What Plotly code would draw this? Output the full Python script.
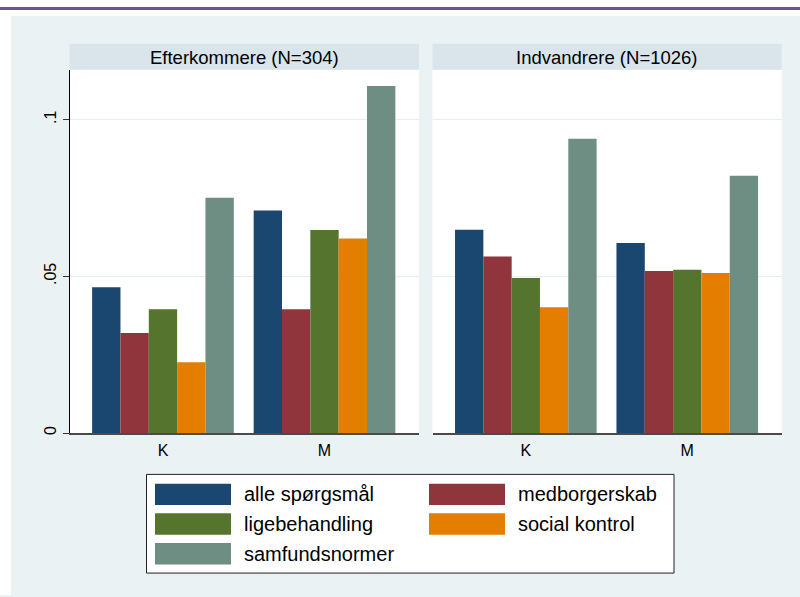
import plotly.graph_objects as go

# ---------------- data ----------------
categories = ["K", "M"]
series_names = ["alle spørgsmål", "medborgerskab", "ligebehandling",
                "social kontrol", "samfundsnormer"]
panel_titles = ["Efterkommere (N=304)", "Indvandrere (N=1026)"]

# Efterkommere (N=304): values for K, M
eft_alle = [0.0465, 0.0710]
eft_medborgerskab = [0.0319, 0.0395]
eft_ligebehandling = [0.0395, 0.0648]
eft_social = [0.0226, 0.0621]
eft_samfund = [0.0751, 0.1107]

# Indvandrere (N=1026): values for K, M
ind_alle = [0.0649, 0.0606]
ind_medborgerskab = [0.0563, 0.0517]
ind_ligebehandling = [0.0495, 0.0521]
ind_social = [0.0401, 0.0511]
ind_samfund = [0.0939, 0.0821]

ytick_vals = [0, 0.05, 0.1]
ytick_text = ["0", ".05", ".1"]

# ---------------- style ----------------
colors = ["#1a476f", "#90353b", "#55752f", "#e37e00", "#6e8e84"]
BG = "#eaf2f3"
STRIP = "#d9e5eb"
FONT = "Liberation Sans, Arial, sans-serif"
W, H = 800, 597


def px(x):
    return x / W


def py(y):
    return 1 - y / H


panels = [
    [eft_alle, eft_medborgerskab, eft_ligebehandling, eft_social, eft_samfund],
    [ind_alle, ind_medborgerskab, ind_ligebehandling, ind_social, ind_samfund],
]

fig = go.Figure()
for p, data in enumerate(panels):
    for i, name in enumerate(series_names):
        fig.add_trace(go.Bar(
            x=categories, y=data[i], name=name,
            marker=dict(color=colors[i], line=dict(width=0)),
            xaxis="x" if p == 0 else "x2",
            yaxis="y" if p == 0 else "y2",
            showlegend=False,
        ))

x_range = [-0.578, 1.585]
y_range = [0, 0.1159]
ydom = [py(434.5), py(70)]

common_x = dict(type="category", range=x_range, showline=True,
                linecolor="#4a4a4a", linewidth=1.5, ticks="", showgrid=False,
                zeroline=False, ticklabelstandoff=2,
                tickfont=dict(size=16, color="black", family=FONT),
                fixedrange=True)
common_y = dict(range=y_range, tickvals=ytick_vals, ticktext=ytick_text,
                showgrid=True, gridcolor="#e6eef0", gridwidth=1, zeroline=False,
                fixedrange=True)

fig.update_layout(
    width=W, height=H,
    margin=dict(l=0, r=0, t=0, b=0),
    paper_bgcolor=BG, plot_bgcolor="white",
    font=dict(family=FONT, color="black"),
    barmode="group", bargap=0.123, bargroupgap=0,
    showlegend=False,
    xaxis=dict(domain=[px(69.6), px(419)], anchor="y", **common_x),
    xaxis2=dict(domain=[px(432.5), px(781.7)], anchor="y2", **common_x),
    yaxis=dict(domain=ydom, anchor="x", showline=True, linecolor="black",
               linewidth=1, ticks="outside", ticklen=6, tickcolor="#333333",
               tickangle=-90, tickfont=dict(size=16, color="black", family=FONT),
               **common_y),
    yaxis2=dict(domain=ydom, anchor="x2", showline=False, showticklabels=False,
                ticks="", **common_y),
)

shapes = []
annotations = []
# white margins and purple rule at top (page framing)
shapes.append(dict(type="rect", xref="paper", yref="paper", x0=0, x1=1,
                   y0=py(16), y1=1, fillcolor="white", line=dict(width=0),
                   layer="below"))
shapes.append(dict(type="rect", xref="paper", yref="paper", x0=0, x1=px(11),
                   y0=0, y1=1, fillcolor="white", line=dict(width=0),
                   layer="below"))
shapes.append(dict(type="rect", xref="paper", yref="paper", x0=0, x1=1,
                   y0=py(10), y1=py(7), fillcolor="#65578a", line=dict(width=0),
                   layer="below"))

# strip headers
strips = [(69.6, 419), (432.5, 781.7)]
for (x0, x1), title in zip(strips, panel_titles):
    shapes.append(dict(type="rect", xref="paper", yref="paper",
                       x0=px(x0), x1=px(x1), y0=py(70), y1=py(44),
                       fillcolor=STRIP, line=dict(width=0), layer="below"))
    annotations.append(dict(xref="paper", yref="paper", x=px((x0 + x1) / 2),
                            y=py(57.5), text=title, showarrow=False,
                            xanchor="center", yanchor="middle",
                            font=dict(size=18.5, color="black", family=FONT)))

# legend box
shapes.append(dict(type="rect", xref="paper", yref="paper",
                   x0=px(146.5), x1=px(674), y0=py(575), y1=py(476),
                   fillcolor="white", line=dict(color="#222222", width=1),
                   layer="above"))
for i, name in enumerate(series_names):
    col, row = i % 2, i // 2
    sx0 = 155 + col * 274
    cy = 496 + row * 29.8
    shapes.append(dict(type="rect", xref="paper", yref="paper",
                       x0=px(sx0), x1=px(sx0 + 76),
                       y0=py(cy + 10.7), y1=py(cy - 10.7),
                       fillcolor=colors[i], line=dict(width=0), layer="above"))
    annotations.append(dict(xref="paper", yref="paper", x=px(sx0 + 87),
                            y=py(cy), text=name, showarrow=False,
                            xanchor="left", yanchor="middle",
                            font=dict(size=20, color="black", family=FONT)))

fig.update_layout(shapes=shapes, annotations=annotations)
fig.write_html("out.html",
               config={"displayModeBar": False, "staticPlot": True},
               post_script="document.body.style.margin='0';"
                           "document.body.style.overflow='hidden';")
